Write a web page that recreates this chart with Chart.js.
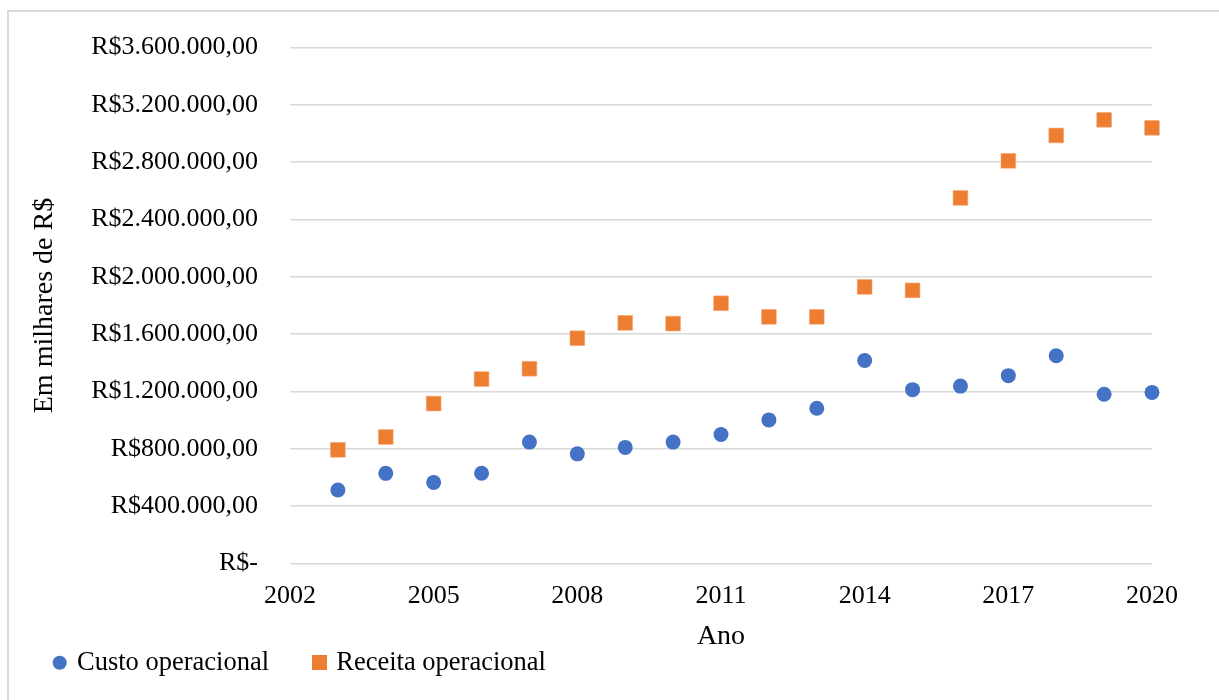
<!DOCTYPE html>
<html>
<head>
<meta charset="utf-8">
<script src="https://cdn.jsdelivr.net/npm/chart.js@4"></script>
<style>
  body { margin: 0; background: #fff; }
  #wrap { position: relative; width: 1219px; height: 700px; }
  #frame { position: absolute; left: 7px; top: 10px; right: -10px; bottom: -10px;
           border-top: 2px solid #d9d9d9; border-left: 2px solid #d9d9d9; pointer-events: none; }
</style>
</head>
<body>
<div id="wrap">
  <canvas id="myChart"></canvas>
  <div id="frame"></div>
</div>
<script>
  // Data
  const anos = [2003, 2004, 2005, 2006, 2007, 2008, 2009, 2010, 2011, 2012, 2013, 2014, 2015, 2016, 2017, 2018, 2019, 2020];
  const custoOperacional = [513000, 629000, 566000, 630000, 847000, 765000, 810000, 847000, 900000,
                            1002000, 1083000, 1417000, 1213000, 1238000, 1311000, 1450000, 1181000, 1194000];
  const receitaOperacional = [793000, 883000, 1116000, 1287000, 1359000, 1572000, 1679000, 1674000, 1816000,
                              1721000, 1721000, 1930000, 1906000, 2551000, 2810000, 2987000, 3096000, 3040000];
  const xTicks = { min: 2002, max: 2020, step: 3 };
  const yTicks = { min: 0, max: 3600000, step: 400000 };

  const fontFamily = "'Times New Roman', 'Liberation Serif', serif";
  const azul = '#4472C4';
  const laranja = '#ED7D31';

  // R$ format like Excel's accounting style
  function formatBRL(v) {
    if (v === 0) return 'R$-';
    const parts = Math.round(v).toString().replace(/\B(?=(\d{3})+(?!\d))/g, '.');
    return 'R$' + parts + ',00';
  }

  // bigger square for the legend (built-in rect comes out smaller than the circle)
  const legendSquare = document.createElement('canvas');
  legendSquare.width = 15;
  legendSquare.height = 15;
  const sq = legendSquare.getContext('2d');
  sq.fillStyle = laranja;
  sq.fillRect(0, 0, 15, 15);

  const config = {
    type: 'scatter',
    data: {
      datasets: [
        {
          label: 'Custo operacional',
          data: anos.map((a, i) => ({ x: a, y: custoOperacional[i] })),
          pointStyle: 'circle',
          pointRadius: 7.5,
          backgroundColor: azul,
          borderColor: azul,
          borderWidth: 0,
          clip: false
        },
        {
          label: 'Receita operacional',
          data: anos.map((a, i) => ({ x: a, y: receitaOperacional[i] })),
          pointStyle: 'rect',
          pointRadius: 10.4,
          backgroundColor: laranja,
          borderColor: '#F4A56F',
          borderWidth: 0.6,
          clip: false
        }
      ]
    },
    options: {
      responsive: true,
      maintainAspectRatio: false,
      animation: false,
      layout: {
        padding: { top: 46, left: 9.7, right: 67, bottom: 14 }
      },
      scales: {
        x: {
          type: 'linear',
          min: xTicks.min,
          max: xTicks.max,
          grid: { display: false, drawTicks: false },
          border: { display: false },
          ticks: {
            stepSize: xTicks.step,
            padding: 17,
            color: '#000',
            font: { family: fontFamily, size: 26 },
            callback: v => String(v)
          },
          title: {
            display: true,
            text: 'Ano',
            color: '#000',
            font: { family: fontFamily, size: 28 },
            padding: { top: 0, bottom: -49.8 }
          },
          afterFit: scale => { scale.height = 40; }
        },
        y: {
          min: yTicks.min,
          max: yTicks.max,
          grid: { color: '#d9d9d9', lineWidth: 1.5, drawTicks: false },
          border: { display: false },
          ticks: {
            stepSize: yTicks.step,
            padding: 32,
            color: '#000',
            font: { family: fontFamily, size: 26 },
            callback: v => formatBRL(v)
          },
          title: {
            display: true,
            text: 'Em milhares de R$',
            color: '#000',
            font: { family: fontFamily, size: 28 },
            padding: { top: 18.5, bottom: 0 }
          },
          afterFit: scale => { scale.width = 280.3; }
        }
      },
      plugins: {
        legend: {
          position: 'bottom',
          align: 'start',
          labels: {
            usePointStyle: true,
            boxWidth: 8,
            boxHeight: 10,
            padding: 46,
            color: '#000',
            font: { family: fontFamily, size: 26.5 },
            generateLabels: chart => {
              const items = Chart.defaults.plugins.legend.labels.generateLabels(chart);
              items[1].pointStyle = legendSquare;
              return items;
            }
          }
        },
        tooltip: { enabled: false }
      }
    }
  };

  const ctx = document.getElementById('myChart').getContext('2d');
  const myChart = new Chart(ctx, config);
</script>
</body>
</html>
